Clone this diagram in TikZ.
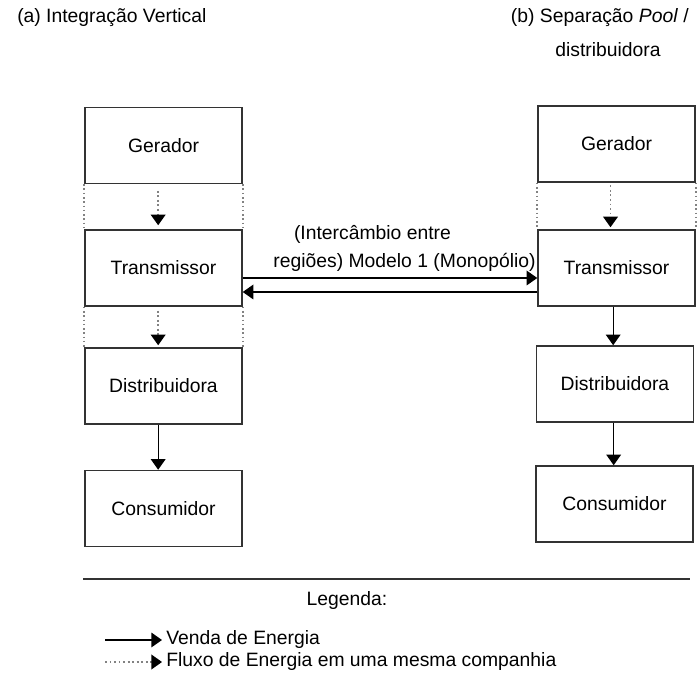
\documentclass[tikz,border=0pt]{standalone}
\usepackage{fontspec}
\setmainfont{Liberation Sans}
\usepackage{xcolor}
\usetikzlibrary{arrows.meta,positioning}

\definecolor{boxgray}{RGB}{51,51,51}
\definecolor{dotgray}{RGB}{130,130,130}

\tikzset{
  bloco/.style={draw=boxgray, line width=1.1pt, minimum width=117.75pt, minimum height=57pt, inner sep=0pt, font=\fontsize{14.5}{17}\selectfont},
  venda/.style={draw=black, line width=1pt, -{Triangle[width=11pt,length=8pt]}},
  fluxo/.style={draw=dotgray, line width=1.4pt, dotted, -{Triangle[width=11pt,length=8pt,fill=black,color=black]}},
  lateral/.style={draw=dotgray, line width=1.2pt, dotted},
  rotulo/.style={inner sep=0.75pt, font=\fontsize{14.5}{17}\selectfont}
}

\begin{document}
\begin{tikzpicture}[x=0.75pt,y=0.75pt,yscale=-1,xscale=1]
        \useasboundingbox (0,0) rectangle (700,680);

        % Text Node
        \node (tituloA) at (16,18) [rotulo, anchor=west] {(a) Integração Vertical};
        % Text Node
        \node (tituloB) at (690,18) [rotulo, anchor=east] {(b) Separação \textit{Pool} /};
        % Text Node
        \node (tituloB2) at (608,50) [rotulo] {distribuidora};

        % Blocos (a)
        \node (gerA) at (163.5,145.5) [bloco] {Gerador};
        \node (traA) at (163.5,268) [bloco] {Transmissor};
        \node (disA) at (163.5,386) [bloco] {Distribuidora};
        \node (conA) at (163.5,508.5) [bloco] {Consumidor};

        % Blocos (b)
        \node (gerB) at (616.5,144) [bloco] {Gerador};
        \node (traB) at (616.5,268) [bloco] {Transmissor};
        \node (disB) at (615,384) [bloco] {Distribuidora};
        \node (conB) at (614.5,504) [bloco] {Consumidor};

        % Dotted sides
        \draw [lateral] (gerA.south west) -- (traA.north west);
        \draw [lateral] (gerA.south east) -- (traA.north east);
        \draw [lateral] (traA.south west) -- (disA.north west);
        \draw [lateral] (traA.south east) -- (disA.north east);
        \draw [lateral] (gerB.south west) -- (traB.north west);
        \draw [lateral] (gerB.south east) -- (traB.north east);

        %Straight Lines (a)
        \draw [fluxo] ([xshift=-4pt,yshift=5pt]gerA.south) -- ([xshift=-4pt,yshift=-3pt]traA.north);
        \draw [fluxo] ([xshift=-4pt,yshift=3pt]traA.south) -- ([xshift=-4pt,yshift=-1.5pt]disA.north);
        \draw [venda] ([xshift=-4pt]disA.south) -- ([xshift=-4pt]conA.north);

        %Straight Lines (b)
        \draw [fluxo] ([xshift=-4.5pt,yshift=2pt]gerB.south) -- ([xshift=-4.5pt,yshift=-1.5pt]traB.north);
        \draw [venda] ([xshift=-2.5pt]traB.south) -- ([xshift=-2.5pt]traB.south |- disB.north);
        \draw [venda] ([xshift=-1pt]disB.south) -- ([xshift=-1pt]disB.south |- conB.north);

        %Straight Lines (intercambio)
        \draw [venda] ([yshift=7.5pt]traA.east) -- ([yshift=7.5pt]traB.west);
        \draw [venda] ([yshift=18pt]traB.west) -- ([yshift=18pt]traA.east);
        % Text Node
        \node (inter1) at (372.5,234) [rotulo] {(Intercâmbio entre};
        \node (inter2) at (404.5,262) [rotulo] {regiões) Modelo 1 (Monopólio)};

        % Separador
        \coordinate (sepE) at (83,579);
        \coordinate (sepD) at (690,579);
        \draw [draw=boxgray, line width=1.2pt] (sepE) -- (sepD);

        % Legenda
        \node (legenda) at (347,601) [rotulo] {Legenda:};
        \coordinate (vendaI) at (105,640);
        \coordinate (vendaF) at (162,640);
        \draw [venda] (vendaI) -- (vendaF);
        \node (vendaT) at (165,640) [rotulo, anchor=west] {Venda de Energia};
        \coordinate (fluxoI) at (105,662);
        \coordinate (fluxoF) at (162,662);
        \draw [fluxo] (fluxoI) -- (fluxoF);
        \node (fluxoT) at (165,662) [rotulo, anchor=west] {Fluxo de Energia em uma mesma companhia};

\end{tikzpicture}
\end{document}
